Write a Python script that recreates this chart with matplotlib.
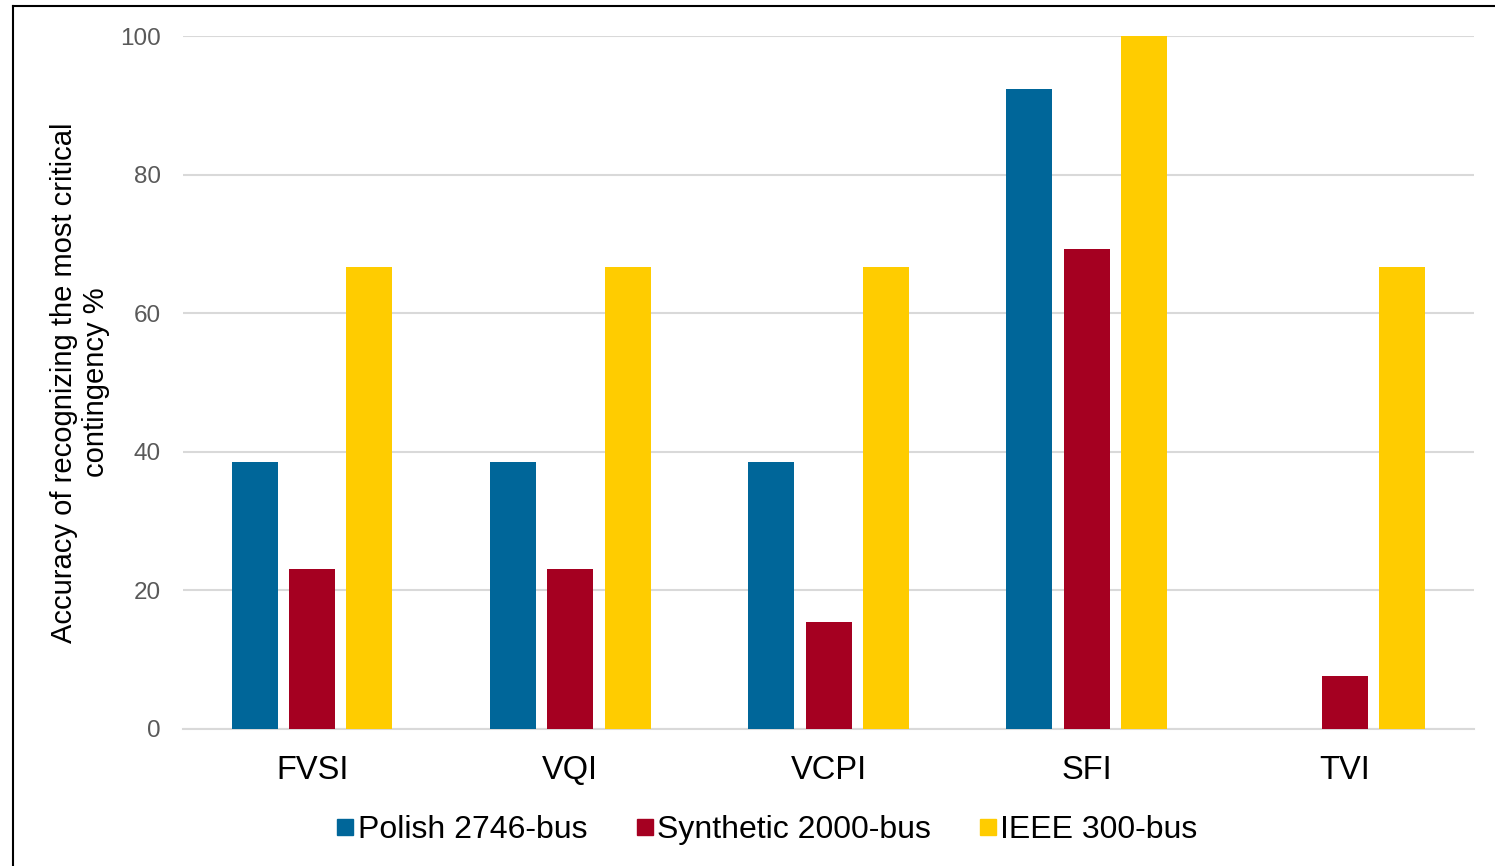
import numpy as np
import matplotlib.pyplot as plt
from matplotlib.lines import Line2D

plt.rcParams['font.family'] = ['Liberation Sans', 'DejaVu Sans']

# data
categories = ['FVSI', 'VQI', 'VCPI', 'SFI', 'TVI']
series = ['Polish 2746-bus', 'Synthetic 2000-bus', 'IEEE 300-bus']
polish = [38.46, 38.46, 38.46, 92.31, 0]
synthetic = [23.08, 23.08, 15.38, 69.23, 7.69]
ieee = [66.67, 66.67, 66.67, 100, 66.67]
colors = ['#006699', '#A50021', '#FFCC00']

fig = plt.figure(figsize=(14.95, 8.66), dpi=100)
ax = fig.add_axes([0.1224, 0.1582, 0.8636, 0.8002])

x = np.arange(len(categories))
w = 0.178
step = 0.222
for i, (vals, c, name) in enumerate(zip([polish, synthetic, ieee], colors, series)):
    ax.bar(x + (i - 1) * step, vals, width=w, color=c, label=name, zorder=3)

ax.set_xlim(-0.5, len(categories) - 0.5)
ax.set_ylim(0, 100)
ax.set_yticks(np.arange(0, 101, 20))
ax.set_xticks(x)
ax.set_xticklabels(categories, fontsize=23.5, color='black')
ax.tick_params(axis='y', labelsize=17.5, labelcolor='#595959', length=0, pad=16)
ax.tick_params(axis='x', length=0, pad=19)
ax.grid(axis='y', color='#D9D9D9', linewidth=1.5, zorder=0)
for s in ['top', 'right', 'left']:
    ax.spines[s].set_visible(False)
ax.spines['bottom'].set_color('#D9D9D9')
ax.spines['bottom'].set_linewidth(1.5)

ax.set_ylabel('Accuracy of recognizing the most critical\ncontingency %', fontsize=21,
              labelpad=7, linespacing=1.2)

handles = [Line2D([], [], marker='s', linestyle='', markersize=11.5, color=c) for c in colors]
fig.legend(handles, series, loc='center', bbox_to_anchor=(0.5107, 0.041), ncol=3,
           frameon=False, fontsize=23, handletextpad=-0.12, columnspacing=1.3,
           handlelength=1.0)

# outer frame (left and top edges visible)
fig.add_artist(Line2D([0.0087, 0.0087], [0, 0.993], transform=fig.transFigure, color='black', lw=1.5))
fig.add_artist(Line2D([0.0087, 1.0], [0.993, 0.993], transform=fig.transFigure, color='black', lw=1.5))

fig.savefig('out.png', dpi=100)
